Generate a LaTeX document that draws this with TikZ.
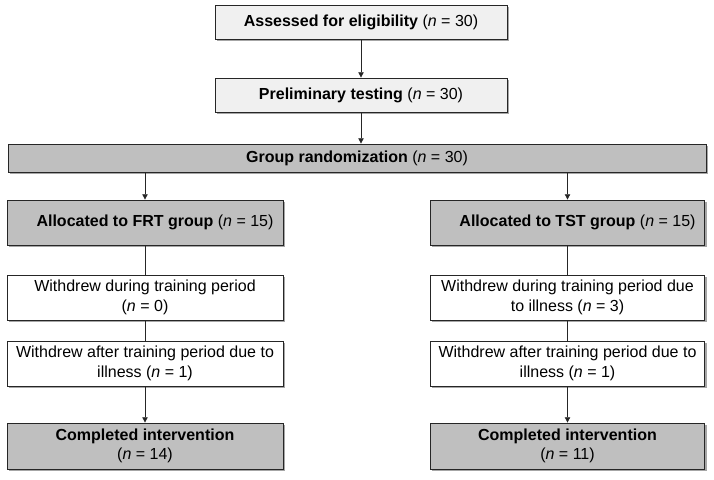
\documentclass[tikz,border=0pt]{standalone}
\usepackage{fontspec}
\setmainfont{Liberation Sans}
\usetikzlibrary{arrows.meta, shadows}

\begin{document}
\begin{tikzpicture}[
    x=0.75pt, y=-0.75pt,
    box/.style={
        draw=black!85,
        line width=0.6pt,
        align=center,
        inner sep=2pt,
        font=\fontsize{12}{14.5}\selectfont,
        drop shadow={shadow xshift=1.6pt, shadow yshift=-1.6pt, fill=black, opacity=0.35}
    },
    lightbox/.style={box, fill=black!6},
    darkbox/.style={box, fill=black!25},
    whitebox/.style={box, fill=white},
    arrow/.style={
        -{Triangle[width=4pt, length=4pt]},
        line width=0.6pt, draw=black!85
    },
    link/.style={
        line width=0.6pt, draw=black!85
    }
]
\useasboundingbox (0,0) rectangle (714,479);

% Top column
\node (assess) at (361,22) [lightbox, minimum width=219pt, minimum height=25.5pt] {\textbf{Assessed for eligibility} (\textit{n} = 30)};
\node (prelim) at (361,95) [lightbox, minimum width=219pt, minimum height=25.5pt] {\textbf{Preliminary testing} (\textit{n} = 30)};
\node (rand) at (357,158) [darkbox, minimum width=523.5pt, minimum height=21pt] {\textbf{Group randomization} (\textit{n} = 30)};

% Left column (FRT)
\node (frt) at (145,222.5) [darkbox, minimum width=207pt, minimum height=33.75pt] {\hspace*{15pt}\textbf{Allocated to FRT group} (\textit{n} = 15)};
\node (frtwd1) at (145,297.5) [whitebox, minimum width=207pt, minimum height=33.75pt] {Withdrew during training period\\(\textit{n} = 0)};
\node (frtwd2) at (145,363.5) [whitebox, minimum width=207pt, minimum height=33.75pt] {Withdrew after training period due to\\illness (\textit{n} = 1)};
\node (frtend) at (145,446) [darkbox, minimum width=207pt, minimum height=34.5pt] {\textbf{Completed intervention}\\(\textit{n} = 14)};

% Right column (TST)
\node (tst) at (567.5,222.5) [darkbox, minimum width=206pt, minimum height=33.75pt] {\hspace*{15pt}\textbf{Allocated to TST group} (\textit{n} = 15)};
\node (tstwd1) at (567.5,297.5) [whitebox, minimum width=206pt, minimum height=33.75pt] {Withdrew during training period due\\to illness (\textit{n} = 3)};
\node (tstwd2) at (567.5,363.5) [whitebox, minimum width=206pt, minimum height=33.75pt] {Withdrew after training period due to\\illness (\textit{n} = 1)};
\node (tstend) at (567.5,446) [darkbox, minimum width=206pt, minimum height=34.5pt] {\textbf{Completed intervention}\\(\textit{n} = 11)};

% Arrows (top)
\draw [arrow] (assess) -- (prelim);
\draw [arrow] (prelim) -- (rand.north -| prelim);

% Arrows (split)
\draw [arrow] (rand.south -| frt) -- (frt);
\draw [arrow] (rand.south -| tst) -- (tst);

% Left chain
\draw [link] (frt) -- (frtwd1);
\draw [link] (frtwd1) -- (frtwd2);
\draw [arrow] (frtwd2) -- (frtend);

% Right chain
\draw [link] (tst) -- (tstwd1);
\draw [link] (tstwd1) -- (tstwd2);
\draw [arrow] (tstwd2) -- (tstend);

\end{tikzpicture}
\end{document}
